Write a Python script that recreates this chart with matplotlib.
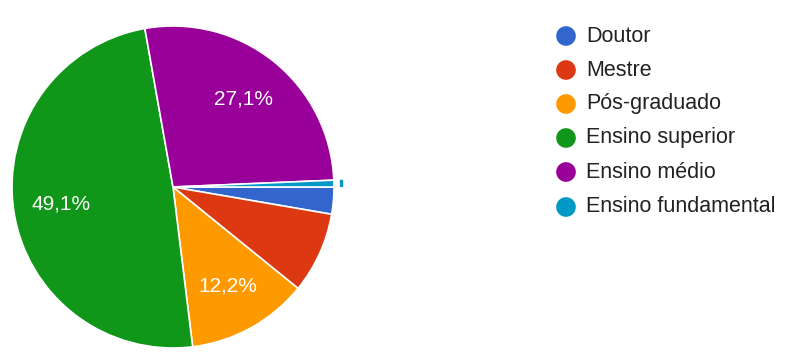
import matplotlib
matplotlib.use("Agg")
import matplotlib.pyplot as plt
from matplotlib.patches import Wedge
import numpy as np

categories = ["Doutor", "Mestre", "Pós-graduado", "Ensino superior", "Ensino médio", "Ensino fundamental"]
counts = [8, 24, 36, 145, 80, 2]
colors = ["#3366CC", "#DC3912", "#FF9900", "#109618", "#990099", "#0099C6"]
shown_labels = ["", "", "12,2%", "49,1%", "27,1%", ""]

plt.rcParams['font.family'] = ['Liberation Sans', 'DejaVu Sans']

W, H = 790, 357
fig = plt.figure(figsize=(W / 100, H / 100), dpi=100)
cx, cy, r = 173, 187, 161
ax = fig.add_axes([(cx - r) / W, (H - cy - r) / H, 2 * r / W, 2 * r / H])
wedges, _ = ax.pie(counts, colors=colors, startangle=0, counterclock=False,
                   radius=1, wedgeprops=dict(edgecolor="white", linewidth=1.2))
ax.set_xlim(-1, 1)
ax.set_ylim(-1, 1)
ax.set_aspect("equal")
ax.axis("off")

# percentage labels
for w, lab in zip(wedges, shown_labels):
    if not lab:
        continue
    ang = np.deg2rad((w.theta1 + w.theta2) / 2)
    d = 0.70
    ax.text(d * np.cos(ang), d * np.sin(ang), lab, color="white", fontsize=15,
            ha="center", va="center")

# selection ring for the last slice
last = wedges[-1]
ring = Wedge((0, 0), 1.057, last.theta1, last.theta2, width=0.02,
             facecolor=colors[-1], edgecolor="none", clip_on=False)
ax.add_patch(ring)

# legend
lax = fig.add_axes([0, 0, 1, 1])
lax.set_xlim(0, W)
lax.set_ylim(H, 0)
lax.axis("off")
ys = [36, 70, 104, 138, 172, 207]
for y, c, name in zip(ys, colors, categories):
    lax.scatter([566], [y], s=200, color=c, edgecolors="none")
    lax.text(586, y, name, fontsize=15.5, color="#222222", ha="left", va="center")

fig.savefig("out.png", dpi=100)
